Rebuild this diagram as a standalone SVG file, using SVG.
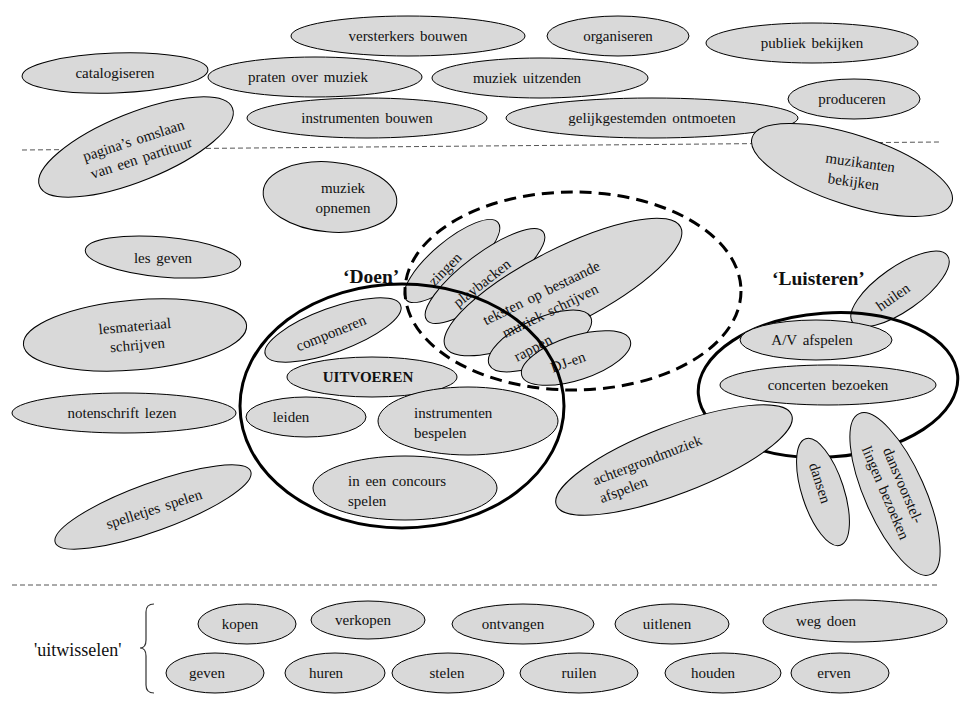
<svg xmlns="http://www.w3.org/2000/svg" width="960" height="720" viewBox="0 0 960 720">
<style>
.n{fill:#d9d9d9;stroke:#000;stroke-width:1}
.t{font-family:"Liberation Serif","Times New Roman",serif;font-size:15px;fill:#111;text-anchor:middle;word-spacing:2px}
.s{text-anchor:start}
.b{font-weight:bold}
.lbl{font-family:"Liberation Serif","Times New Roman",serif;font-size:19.5px;font-weight:bold;fill:#111}
.div{stroke:#555;stroke-width:1;stroke-dasharray:5 3;fill:none}
.big{fill:none;stroke:#000;stroke-width:3}
.dash{fill:none;stroke:#000;stroke-width:3;stroke-dasharray:12 7}
</style>
<rect width="960" height="720" fill="#fff"/>
<g id="connectors">
<line class="div" x1="22" y1="150" x2="940" y2="142"/>
<line class="div" x1="12" y1="585" x2="940" y2="585"/>
<path d="M154,604 Q146,604 146,612 L146,640 Q146,648 140,648 Q146,648 146,656 L146,685 Q146,693 154,693" fill="none" stroke="#333" stroke-width="1.2"/>
</g>
<!-- top -->
<g id="versterkers"><ellipse class="n" cx="408" cy="36" rx="117" ry="20"/><text class="t" x="408" y="41">versterkers bouwen</text></g>
<g id="organiseren"><ellipse class="n" cx="618" cy="36" rx="71" ry="20"/><text class="t" x="618" y="41">organiseren</text></g>
<g id="publiek"><ellipse class="n" cx="812" cy="43" rx="106" ry="20"/><text class="t" x="812" y="48">publiek bekijken</text></g>
<g id="catalogiseren"><ellipse class="n" cx="115" cy="73" rx="93" ry="20" transform="rotate(-2,115,73)"/><text class="t" x="115" y="78">catalogiseren</text></g>
<g id="praten"><ellipse class="n" cx="315" cy="77" rx="107" ry="20"/><text class="t" x="308" y="82">praten over muziek</text></g>
<g id="uitzenden"><ellipse class="n" cx="540" cy="78" rx="108" ry="20"/><text class="t" x="527" y="83">muziek uitzenden</text></g>
<g id="produceren"><ellipse class="n" cx="854" cy="99" rx="66" ry="20"/><text class="t" x="852" y="104">produceren</text></g>
<g id="instr-bouwen"><ellipse class="n" cx="367" cy="118" rx="120" ry="20"/><text class="t" x="367" y="123">instrumenten bouwen</text></g>
<g id="gelijkgestemden"><ellipse class="n" cx="652" cy="118" rx="146" ry="20"/><text class="t" x="652" y="123">gelijkgestemden ontmoeten</text></g>
<g id="paginas"><ellipse class="n" cx="136" cy="147" rx="104" ry="34" transform="rotate(-22,136,147)"/><text class="t" transform="rotate(-18,136,148)"><tspan x="136" y="145">pagina’s  omslaan</tspan><tspan x="138" y="164">van een partituur</tspan></text></g>
<g id="muzikanten"><ellipse class="n" cx="852" cy="170" rx="105" ry="35" transform="rotate(18,852,170)"/><text class="t" transform="rotate(8,856,172)"><tspan x="859" y="167">muzikanten</tspan><tspan x="855" y="187">bekijken</tspan></text></g>
<!-- middle left -->
<g id="opnemen"><ellipse class="n" cx="330" cy="197" rx="67" ry="35" transform="rotate(5,330,197)"/><text class="t"><tspan x="343" y="193">muziek</tspan><tspan x="343" y="213">opnemen</tspan></text></g>
<g id="lesgeven"><ellipse class="n" cx="163" cy="257" rx="78" ry="20" transform="rotate(5,163,257)"/><text class="t" x="163" y="263">les geven</text></g>
<g id="lesmateriaal"><ellipse class="n" cx="135" cy="335" rx="112" ry="35" transform="rotate(-5,135,335)"/><text class="t" transform="rotate(-5,136,340)"><tspan x="136" y="331">lesmateriaal</tspan><tspan x="137" y="350">schrijven</tspan></text></g>
<g id="notenschrift"><ellipse class="n" cx="124" cy="413" rx="112" ry="20"/><text class="t" x="122" y="418">notenschrift  lezen</text></g>
<g id="spelletjes"><ellipse class="n" cx="153" cy="507" rx="104" ry="24" transform="rotate(-20,153,507)"/><text class="t" x="154" y="514" transform="rotate(-18,154,509)">spelletjes  spelen</text></g>
<!-- dashed group items -->
<g id="zingen"><ellipse class="n" cx="452" cy="261" rx="60" ry="20" transform="rotate(-40,452,261)"/><text class="t" x="445" y="274" transform="rotate(-45,445,269)">zingen</text></g>
<g id="playbacken"><ellipse class="n" cx="485" cy="276" rx="73" ry="22" transform="rotate(-37,485,276)"/><text class="t" x="482" y="288" transform="rotate(-38,482,283)">playbacken</text></g>
<g id="teksten"><ellipse class="n" cx="563" cy="287" rx="132" ry="38" transform="rotate(-27,563,287)"/></g>
<g id="rappen"><ellipse class="n" cx="540" cy="341" rx="56" ry="22" transform="rotate(-25,540,341)"/><text class="t" x="533" y="353" transform="rotate(-28,533,348)">rappen</text></g>
<g id="djen"><ellipse class="n" cx="576" cy="358" rx="57" ry="22" transform="rotate(-18,576,358)"/><text class="t" x="568" y="367" transform="rotate(-20,568,362)">DJ-en</text></g>
<g id="teksten-label"><text class="t" transform="rotate(-26,545,300)"><tspan x="545" y="297">teksten op bestaande</tspan><tspan x="545" y="317">muziek  schrijven</tspan></text></g>
<g id="doen-set"><ellipse class="dash" cx="573" cy="291" rx="168" ry="99"/></g>
<!-- doen -->
<g id="componeren"><ellipse class="n" cx="333" cy="330" rx="72" ry="22" transform="rotate(-20,333,330)"/><text class="t" x="331" y="338" transform="rotate(-22,331,333)">componeren</text></g>
<g id="uitvoeren"><ellipse class="n" cx="372" cy="377" rx="85" ry="20"/><text class="t b" x="368" y="382">UITVOEREN</text></g>
<g id="leiden"><ellipse class="n" cx="306" cy="417" rx="60" ry="20"/><text class="t" x="291" y="422">leiden</text></g>
<g id="instr-bespelen"><ellipse class="n" cx="468" cy="421" rx="90" ry="34"/><text class="t s"><tspan x="414" y="418">instrumenten</tspan><tspan x="414" y="438">bespelen</tspan></text></g>
<g id="concours"><ellipse class="n" cx="405" cy="488" rx="92" ry="32"/><text class="t s"><tspan x="348" y="486">in een concours</tspan><tspan x="348" y="506">spelen</tspan></text></g>
<g id="doen"><ellipse class="big" cx="402" cy="406" rx="162" ry="122"/><text class="lbl" x="343" y="283">‘Doen’</text></g>
<!-- luisteren -->
<g id="huilen"><ellipse class="n" cx="900" cy="289" rx="58" ry="22" transform="rotate(-35,900,289)"/><text class="t" x="893" y="302" transform="rotate(-35,893,297)">huilen</text></g>
<g id="luisteren"><ellipse class="big" cx="828" cy="385" rx="130" ry="72" transform="rotate(-4,828,385)"/><text class="lbl" x="772" y="285">‘Luisteren’</text></g>
<g id="av"><ellipse class="n" cx="816" cy="340" rx="76" ry="20"/><text class="t" x="812" y="345">A/V afspelen</text></g>
<g id="concerten"><ellipse class="n" cx="828" cy="385" rx="108" ry="20"/><text class="t" x="828" y="390">concerten  bezoeken</text></g>
<g id="achtergrond"><ellipse class="n" cx="674" cy="460" rx="126" ry="34" transform="rotate(-21,674,460)"/><text class="t s" transform="rotate(-21,600,490)"><tspan x="597" y="484">achtergrondmuziek</tspan><tspan x="597" y="503">afspelen</tspan></text></g>
<g id="dansen"><ellipse class="n" cx="823" cy="492" rx="56" ry="21" transform="rotate(72,823,492)"/><text class="t" x="820" y="488" transform="rotate(72,820,483)">dansen</text></g>
<g id="dansvoorstellingen"><ellipse class="n" cx="895" cy="494" rx="88" ry="30" transform="rotate(66,895,494)"/><text class="t" transform="rotate(67,892,490)"><tspan x="892" y="483">dansvoorstel-</tspan><tspan x="892" y="502">lingen  bezoeken</tspan></text></g>
<!-- uitwisselen -->
<g id="uitwisselen"><text class="t s" style="font-size:18px" x="34" y="656">'uitwisselen'</text></g>
<g id="kopen"><ellipse class="n" cx="247" cy="624" rx="49" ry="20"/><text class="t" x="240" y="629">kopen</text></g>
<g id="verkopen"><ellipse class="n" cx="368" cy="620" rx="57" ry="19"/><text class="t" x="363" y="625">verkopen</text></g>
<g id="ontvangen"><ellipse class="n" cx="523" cy="624" rx="71" ry="20"/><text class="t" x="513" y="629">ontvangen</text></g>
<g id="uitlenen"><ellipse class="n" cx="672" cy="624" rx="57" ry="20"/><text class="t" x="667" y="629">uitlenen</text></g>
<g id="wegdoen"><ellipse class="n" cx="855" cy="621" rx="92" ry="21"/><text class="t" x="826" y="626">weg doen</text></g>
<g id="geven"><ellipse class="n" cx="215" cy="673" rx="49" ry="20"/><text class="t" x="207" y="678">geven</text></g>
<g id="huren"><ellipse class="n" cx="335" cy="673" rx="50" ry="20"/><text class="t" x="326" y="678">huren</text></g>
<g id="stelen"><ellipse class="n" cx="448" cy="673" rx="56" ry="20"/><text class="t" x="447" y="678">stelen</text></g>
<g id="ruilen"><ellipse class="n" cx="579" cy="673" rx="59" ry="20"/><text class="t" x="579" y="678">ruilen</text></g>
<g id="houden"><ellipse class="n" cx="723" cy="673" rx="58" ry="20"/><text class="t" x="713" y="678">houden</text></g>
<g id="erven"><ellipse class="n" cx="840" cy="673" rx="49" ry="20"/><text class="t" x="834" y="678">erven</text></g>
</svg>
